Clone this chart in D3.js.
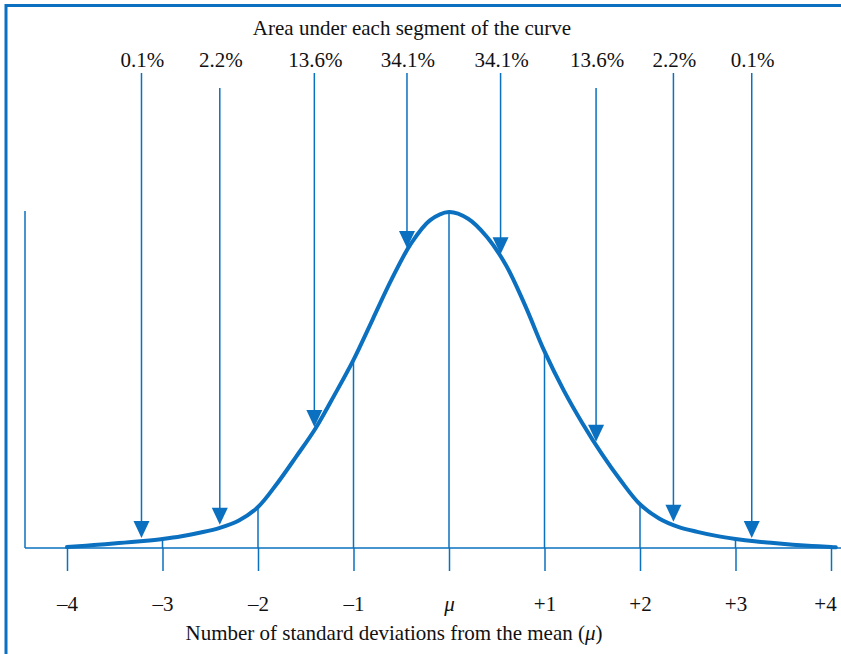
<!DOCTYPE html>
<html>
<head>
<meta charset="utf-8">
<script src="https://cdn.jsdelivr.net/npm/d3@7"></script>
<style>
  html, body { margin: 0; padding: 0; background: #fff; }
  svg { display: block; }
  text { font-family: "Liberation Serif", "Times New Roman", serif; fill: #111; }
</style>
</head>
<body>
<svg id="chart" width="841" height="654"></svg>
<script>
// ---- data ----
const title = "Area under each segment of the curve";
const axisTitle = "Number of standard deviations from the mean (";
const tickValues = [-4, -3, -2, -1, 0, 1, 2, 3, 4];
const tickLabels = ["\u20134", "\u20133", "\u20132", "\u20131", "\u03bc", "+1", "+2", "+3", "+4"];
// curve: sd position and height relative to peak
const curveSD = [-4.0,-3.8,-3.6,-3.4,-3.2,-3.0,-2.8,-2.6,-2.4,-2.2,-2.0,-1.8,-1.6,-1.4,-1.2,-1.0,-0.8,-0.6,-0.4,-0.2,0.0,
                 0.2,0.4,0.6,0.8,1.0,1.2,1.4,1.6,1.8,2.0,2.2,2.4,2.6,2.8,3.0,3.2,3.4,3.6,3.8,4.0,4.05];
const curveH  = [0.003,0.007,0.011,0.016,0.021,0.027,0.035,0.046,0.060,0.082,0.122,0.192,0.272,0.355,0.455,0.56,0.68,0.80,0.905,0.975,1.0,
                 0.98,0.925,0.84,0.72,0.585,0.47,0.37,0.28,0.20,0.13,0.088,0.063,0.048,0.036,0.027,0.020,0.015,0.010,0.006,0.003,0.002];
// arrows: label, sd position, long (true) or short shaft
const arrowLabels = ["0.1%", "2.2%", "13.6%", "34.1%", "34.1%", "13.6%", "2.2%", "0.1%"];
const arrowSD     = [-3.22, -2.40, -1.41, -0.44, 0.54, 1.54, 2.35, 3.17];
const arrowLong   = [true, false, true, true, true, false, true, true];

// ---- layout ----
const blue = "#0a70bf";
const fs = 21;
const svg = d3.select("#chart");
const x = d3.scaleLinear().domain([-4, 4]).range([67, 831]);
const y = d3.scaleLinear().domain([0, 1]).range([548, 212]);
const curvePts = curveSD.map((s, i) => [s, curveH[i]]);
const hAt = d3.scaleLinear().domain(curveSD).range(curveH);

// border (top and left)
svg.append("path")
  .attr("d", "M6,654 L6,5.5 L841,5.5")
  .attr("fill", "none").attr("stroke", blue).attr("stroke-width", 3);

// title
svg.append("text").attr("x", 412).attr("y", 35).attr("text-anchor", "middle")
  .attr("font-size", fs).text(title);

// left vertical axis line and baseline
svg.append("line").attr("x1", 25).attr("x2", 25).attr("y1", 211).attr("y2", y(0))
  .attr("stroke", blue).attr("stroke-width", 1.5);
svg.append("line").attr("x1", 25).attr("x2", 841).attr("y1", y(0)).attr("y2", y(0))
  .attr("stroke", blue).attr("stroke-width", 1.5);

// bottom axis ticks
const axis = d3.axisBottom(x).tickValues(tickValues).tickSize(23).tickPadding(25)
  .tickFormat((d, i) => tickLabels[i]);
const gAxis = svg.append("g").attr("transform", `translate(0,${y(0)})`).call(axis);
gAxis.select(".domain").remove();
gAxis.selectAll(".tick line").attr("stroke", blue).attr("stroke-width", 1.5);
gAxis.selectAll(".tick text")
  .attr("font-family", "Liberation Serif, serif").attr("font-size", fs).attr("fill", "#111")
  .attr("font-style", (d) => d === 0 ? "italic" : null)
  .attr("dx", (d) => d === 4 ? -6 : 0);

// vertical lines from curve down to baseline
svg.append("g").selectAll("line").data(tickValues).join("line")
  .attr("x1", d => x(d)).attr("x2", d => x(d))
  .attr("y1", d => y(hAt(d))).attr("y2", y(0))
  .attr("stroke", blue).attr("stroke-width", 1.5);

// curve
svg.append("path").datum(curvePts)
  .attr("d", d3.line().x(d => x(d[0])).y(d => y(d[1])).curve(d3.curveCatmullRom.alpha(0.5)))
  .attr("fill", "none").attr("stroke", blue).attr("stroke-width", 4)
  .attr("stroke-linecap", "round");

// arrows
const ga = svg.append("g");
arrowSD.forEach((s, i) => {
  const ax = x(s);
  const tip = y(hAt(s)) - 3;
  const top = arrowLong[i] ? 73 : 88;
  const headH = 17, headW = 16;
  ga.append("line").attr("x1", ax).attr("x2", ax).attr("y1", top).attr("y2", tip - headH + 1)
    .attr("stroke", blue).attr("stroke-width", 1.5);
  ga.append("path")
    .attr("d", `M${ax - headW / 2},${tip - headH} L${ax + headW / 2},${tip - headH} L${ax},${tip} Z`)
    .attr("fill", blue);
  ga.append("text").attr("x", ax + 1).attr("y", 67).attr("text-anchor", "middle")
    .attr("font-size", fs).text(arrowLabels[i]);
});

// axis title with italic mu
const at = svg.append("text").attr("x", 394).attr("y", 640).attr("text-anchor", "middle")
  .attr("font-size", fs);
at.append("tspan").text(axisTitle);
at.append("tspan").attr("font-style", "italic").text("\u03bc");
at.append("tspan").text(")");
</script>
</body>
</html>
